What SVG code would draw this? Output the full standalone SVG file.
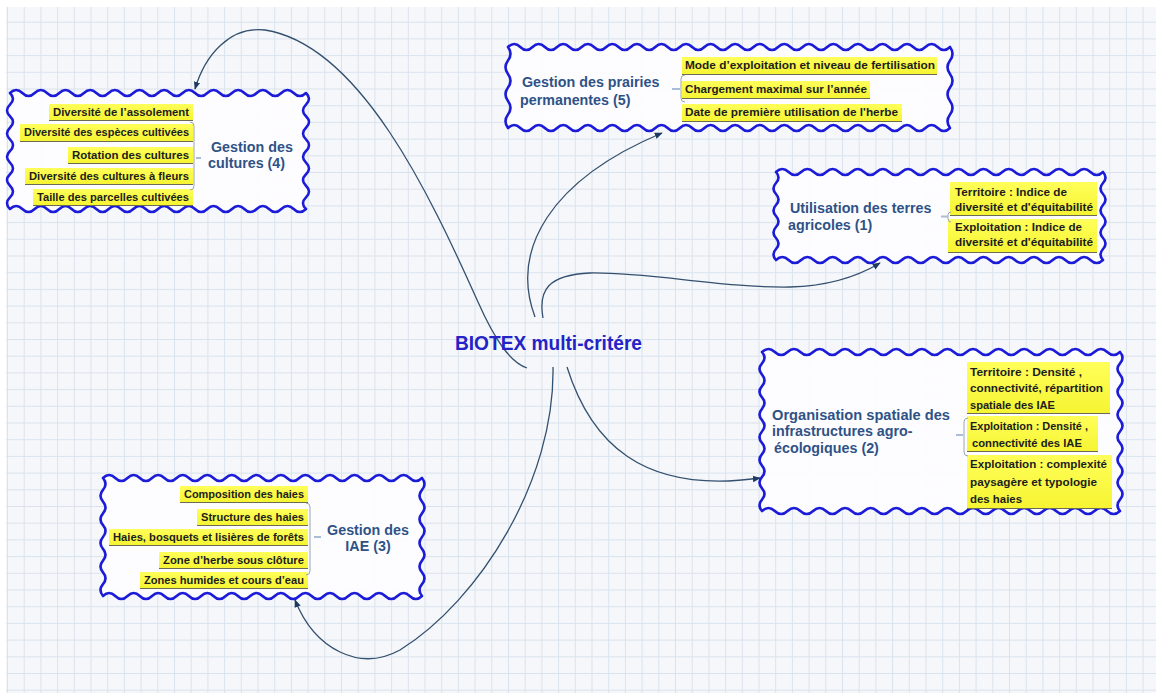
<svg xmlns="http://www.w3.org/2000/svg" width="1156" height="693" viewBox="0 0 1156 693">
  <defs>
    <pattern id="grid" width="16.7" height="16.7" patternUnits="userSpaceOnUse" x="7" y="5">
      <path d="M0,0.5 H16.7 M0.5,0 V16.7" stroke="#dae3ed" stroke-width="1" fill="none"/>
    </pattern>
    <linearGradient id="hl" x1="0" y1="0" x2="0" y2="1">
      <stop offset="0" stop-color="#ffff5a"/>
      <stop offset="1" stop-color="#f6f432"/>
    </linearGradient>
    <marker id="arr" viewBox="0 0 10 10" refX="9" refY="5" markerWidth="8" markerHeight="8" markerUnits="userSpaceOnUse" orient="auto">
      <path d="M0,1 L10,5 L0,9 z" fill="#1e3a60"/>
    </marker>
  </defs>
  <style>
    .frame { fill: #fdfdff; fill-opacity: 0.94; stroke: #1c1cd8; stroke-width: 2.6; stroke-linejoin: round; }
    .hl { fill: url(#hl); }
    .ul { stroke: #6b6b55; stroke-width: 1; }
    .item { font-family: "Liberation Sans", Arial, sans-serif; font-weight: bold; font-size: 11.5px; fill: #1d1d1d; }
    .title { font-family: "Liberation Sans", Arial, sans-serif; font-weight: bold; font-size: 14.3px; fill: #2f5286; }
    .brace { fill: none; stroke: #9aa6b4; stroke-width: 1; }
    .dash { stroke: #a9bdd6; stroke-width: 2; }
    .link { fill: none; stroke: #34506f; stroke-width: 1.3; marker-end: url(#arr); }
    .root { font-family: "Liberation Sans", Arial, sans-serif; font-weight: bold; font-size: 19.5px; fill: #2323c8; }
  </style>

  <!-- squared paper background -->
  <rect x="0" y="0" width="1156" height="693" fill="#ffffff"/>
  <rect x="6" y="7" width="1150" height="686" fill="#f5f7fa"/>
  <rect x="6" y="7" width="1150" height="686" fill="url(#grid)"/>

  <!-- connectors from the central topic -->
  <g id="connectors">
    <path class="link" d="M527,368 C510,362 495,340 478,302 C430,195 360,45 265,30 C230,26 205,55 195,89"/>
    <path class="link" d="M535,317 C510,250 550,180 662,133"/>
    <path class="link" d="M543,318 C538,290 548,275 590,273 C650,272 720,288 790,287 C830,286 860,275 880,263"/>
    <path class="link" d="M567,367 C590,440 640,495 760,478"/>
    <path class="link" d="M553,367 C555,480 480,600 400,650 C360,672 315,650 295,600"/>
  </g>

  <!-- central topic -->
  <g id="root">
    <text class="root" x="455" y="350" textLength="187" lengthAdjust="spacingAndGlyphs">BIOTEX multi-critére</text>
  </g>

  <!-- Gestion des cultures (4) -->
  <g id="node-cultures">
    <path class="frame" d="M10,93 q6.167,-6 12.333,0 t12.333,0 12.333,0 12.333,0 12.333,0 12.333,0 12.333,0 12.333,0 12.333,0 12.333,0 12.333,0 12.333,0 12.333,0 12.333,0 12.333,0 12.333,0 12.333,0 12.333,0 12.333,0 12.333,0 12.333,0 12.333,0 12.333,0 12.333,0
      q6,5.8 0,11.6 t0,11.6 0,11.6 0,11.6 0,11.6 0,11.6 0,11.6 0,11.6 0,11.6 0,11.6
      q-6.167,6 -12.333,0 t-12.333,0 -12.333,0 -12.333,0 -12.333,0 -12.333,0 -12.333,0 -12.333,0 -12.333,0 -12.333,0 -12.333,0 -12.333,0 -12.333,0 -12.333,0 -12.333,0 -12.333,0 -12.333,0 -12.333,0 -12.333,0 -12.333,0 -12.333,0 -12.333,0 -12.333,0 -12.333,0
      q-6,-5.8 0,-11.6 t0,-11.6 0,-11.6 0,-11.6 0,-11.6 0,-11.6 0,-11.6 0,-11.6 0,-11.6 0,-11.6 Z"/>
    <rect class="hl" x="49" y="104" width="144" height="16"/>
    <line class="ul" x1="49" y1="120.5" x2="193" y2="120.5"/>
    <text class="item" x="189" y="116" text-anchor="end" textLength="136" lengthAdjust="spacingAndGlyphs">Diversité de l’assolement</text>
    <rect class="hl" x="20" y="124" width="173" height="17"/>
    <line class="ul" x1="20" y1="141.5" x2="193" y2="141.5"/>
    <text class="item" x="189" y="136" text-anchor="end" textLength="165" lengthAdjust="spacingAndGlyphs">Diversité des espèces cultivées</text>
    <rect class="hl" x="68" y="147" width="125" height="16"/>
    <line class="ul" x1="68" y1="163.5" x2="193" y2="163.5"/>
    <text class="item" x="189" y="159" text-anchor="end" textLength="117" lengthAdjust="spacingAndGlyphs">Rotation des cultures</text>
    <rect class="hl" x="25" y="168" width="168" height="16"/>
    <line class="ul" x1="25" y1="184.5" x2="193" y2="184.5"/>
    <text class="item" x="189" y="180" text-anchor="end" textLength="160" lengthAdjust="spacingAndGlyphs">Diversité des cultures à fleurs</text>
    <rect class="hl" x="33" y="189" width="160" height="16"/>
    <line class="ul" x1="33" y1="205.5" x2="193" y2="205.5"/>
    <text class="item" x="189" y="201" text-anchor="end" textLength="152" lengthAdjust="spacingAndGlyphs">Taille des parcelles cultivées</text>
    <path class="brace" d="M190,122 q4,0 4,4 V186 q0,4 -4,4"/>
    <line class="dash" x1="196" y1="158" x2="201" y2="158"/>
    <text class="title" x="211" y="152">Gestion des</text>
    <text class="title" x="208" y="168">cultures (4)</text>
  </g>

  <!-- Gestion des prairies permanentes (5) -->
  <g id="node-prairies">
    <path class="frame" d="M508,47 q6.139,-6 12.278,0 t12.278,0 12.278,0 12.278,0 12.278,0 12.278,0 12.278,0 12.278,0 12.278,0 12.278,0 12.278,0 12.278,0 12.278,0 12.278,0 12.278,0 12.278,0 12.278,0 12.278,0 12.278,0 12.278,0 12.278,0 12.278,0 12.278,0 12.278,0 12.278,0 12.278,0 12.278,0 12.278,0 12.278,0 12.278,0 12.278,0 12.278,0 12.278,0 12.278,0 12.278,0 12.278,0
      q5,6.75 0,13.5 t0,13.5 0,13.5 0,13.5 0,13.5 0,13.5
      q-6.139,6 -12.278,0 t-12.278,0 -12.278,0 -12.278,0 -12.278,0 -12.278,0 -12.278,0 -12.278,0 -12.278,0 -12.278,0 -12.278,0 -12.278,0 -12.278,0 -12.278,0 -12.278,0 -12.278,0 -12.278,0 -12.278,0 -12.278,0 -12.278,0 -12.278,0 -12.278,0 -12.278,0 -12.278,0 -12.278,0 -12.278,0 -12.278,0 -12.278,0 -12.278,0 -12.278,0 -12.278,0 -12.278,0 -12.278,0 -12.278,0 -12.278,0 -12.278,0
      q-5,-6.75 0,-13.5 t0,-13.5 0,-13.5 0,-13.5 0,-13.5 0,-13.5 Z"/>
    <rect class="hl" x="682" y="57" width="255" height="17"/>
    <line class="ul" x1="682" y1="74.5" x2="937" y2="74.5"/>
    <text class="item" x="685" y="69" textLength="250" lengthAdjust="spacingAndGlyphs">Mode d’exploitation et niveau de fertilisation</text>
    <rect class="hl" x="682" y="81" width="188" height="17"/>
    <line class="ul" x1="682" y1="98.5" x2="870" y2="98.5"/>
    <text class="item" x="685" y="93" textLength="182" lengthAdjust="spacingAndGlyphs">Chargement maximal sur l’année</text>
    <rect class="hl" x="682" y="104" width="220" height="17"/>
    <line class="ul" x1="682" y1="121.5" x2="902" y2="121.5"/>
    <text class="item" x="685" y="116" textLength="213" lengthAdjust="spacingAndGlyphs">Date de première utilisation de l'herbe</text>
    <path class="brace" d="M685,75 q-4,0 -4,4 V98 q0,4 4,4"/>
    <line class="dash" x1="672" y1="89" x2="680" y2="89"/>
    <text class="title" x="522" y="87">Gestion des prairies</text>
    <text class="title" x="520" y="105">permanentes (5)</text>
  </g>

  <!-- Utilisation des terres agricoles (1) -->
  <g id="node-terres">
    <path class="frame" d="M776,172 q6.288,-6 12.577,0 t12.577,0 12.577,0 12.577,0 12.577,0 12.577,0 12.577,0 12.577,0 12.577,0 12.577,0 12.577,0 12.577,0 12.577,0 12.577,0 12.577,0 12.577,0 12.577,0 12.577,0 12.577,0 12.577,0 12.577,0 12.577,0 12.577,0 12.577,0 12.577,0 12.577,0
      q5,5.5 0,11 t0,11 0,11 0,11 0,11 0,11 0,11 0,11
      q-6.288,6 -12.577,0 t-12.577,0 -12.577,0 -12.577,0 -12.577,0 -12.577,0 -12.577,0 -12.577,0 -12.577,0 -12.577,0 -12.577,0 -12.577,0 -12.577,0 -12.577,0 -12.577,0 -12.577,0 -12.577,0 -12.577,0 -12.577,0 -12.577,0 -12.577,0 -12.577,0 -12.577,0 -12.577,0 -12.577,0 -12.577,0
      q-5,-5.5 0,-11 t0,-11 0,-11 0,-11 0,-11 0,-11 0,-11 0,-11 Z"/>
    <rect class="hl" x="950" y="182" width="147" height="33"/>
    <line class="ul" x1="950" y1="215.5" x2="1097" y2="215.5"/>
    <text class="item" x="955" y="196" textLength="112" lengthAdjust="spacingAndGlyphs">Territoire : Indice de</text>
    <text class="item" x="955" y="211" textLength="138" lengthAdjust="spacingAndGlyphs">diversité et d'équitabilité</text>
    <rect class="hl" x="948" y="219" width="149" height="33"/>
    <line class="ul" x1="948" y1="252.5" x2="1097" y2="252.5"/>
    <text class="item" x="955" y="231" textLength="127" lengthAdjust="spacingAndGlyphs">Exploitation : Indice de</text>
    <text class="item" x="955" y="246" textLength="138" lengthAdjust="spacingAndGlyphs">diversité et d'équitabilité</text>
    <path class="brace" d="M951,212 q-3,0 -3,3 V219 q0,3 3,3"/>
    <line class="dash" x1="941" y1="216.5" x2="948" y2="216.5"/>
    <text class="title" x="790" y="213">Utilisation des terres</text>
    <text class="title" x="788" y="230">agricoles (1)</text>
  </g>

  <!-- Organisation spatiale des infrastructures agro-écologiques (2) -->
  <g id="node-organisation">
    <path class="frame" d="M762,352 q6.393,-6 12.786,0 t12.786,0 12.786,0 12.786,0 12.786,0 12.786,0 12.786,0 12.786,0 12.786,0 12.786,0 12.786,0 12.786,0 12.786,0 12.786,0 12.786,0 12.786,0 12.786,0 12.786,0 12.786,0 12.786,0 12.786,0 12.786,0 12.786,0 12.786,0 12.786,0 12.786,0 12.786,0 12.786,0
      q5,5.679 0,11.357 t0,11.357 0,11.357 0,11.357 0,11.357 0,11.357 0,11.357 0,11.357 0,11.357 0,11.357 0,11.357 0,11.357 0,11.357 0,11.357
      q-6.393,6 -12.786,0 t-12.786,0 -12.786,0 -12.786,0 -12.786,0 -12.786,0 -12.786,0 -12.786,0 -12.786,0 -12.786,0 -12.786,0 -12.786,0 -12.786,0 -12.786,0 -12.786,0 -12.786,0 -12.786,0 -12.786,0 -12.786,0 -12.786,0 -12.786,0 -12.786,0 -12.786,0 -12.786,0 -12.786,0 -12.786,0 -12.786,0 -12.786,0
      q-5,-5.679 0,-11.357 t0,-11.357 0,-11.357 0,-11.357 0,-11.357 0,-11.357 0,-11.357 0,-11.357 0,-11.357 0,-11.357 0,-11.357 0,-11.357 0,-11.357 0,-11.357 Z"/>
    <rect class="hl" x="967" y="362" width="143" height="51"/>
    <line class="ul" x1="967" y1="413.5" x2="1110" y2="413.5"/>
    <text class="item" x="970" y="376" textLength="112" lengthAdjust="spacingAndGlyphs">Territoire : Densité ,</text>
    <text class="item" x="970" y="392" textLength="133" lengthAdjust="spacingAndGlyphs">connectivité, répartition</text>
    <text class="item" x="970" y="409" textLength="85" lengthAdjust="spacingAndGlyphs">spatiale des IAE</text>
    <rect class="hl" x="967" y="416" width="131" height="35"/>
    <line class="ul" x1="967" y1="451.5" x2="1098" y2="451.5"/>
    <text class="item" x="970" y="430" textLength="118" lengthAdjust="spacingAndGlyphs">Exploitation : Densité ,</text>
    <text class="item" x="972" y="447" textLength="110" lengthAdjust="spacingAndGlyphs">connectivité des IAE</text>
    <rect class="hl" x="967" y="455" width="145" height="53"/>
    <line class="ul" x1="967" y1="508.5" x2="1112" y2="508.5"/>
    <text class="item" x="970" y="468" textLength="137" lengthAdjust="spacingAndGlyphs">Exploitation : complexité</text>
    <text class="item" x="970" y="486" textLength="127" lengthAdjust="spacingAndGlyphs">paysagère et typologie</text>
    <text class="item" x="970" y="503" textLength="52" lengthAdjust="spacingAndGlyphs">des haies</text>
    <path class="brace" d="M968,418 q-4,0 -4,4 V452 q0,4 4,4"/>
    <line class="dash" x1="956" y1="435" x2="963" y2="435"/>
    <text class="title" x="772" y="420" textLength="178" lengthAdjust="spacingAndGlyphs">Organisation spatiale des</text>
    <text class="title" x="772" y="436">infrastructures agro-</text>
    <text class="title" x="774" y="453">écologiques (2)</text>
  </g>

  <!-- Gestion des IAE (3) -->
  <g id="node-iae">
    <path class="frame" d="M103,478 q6.135,-6 12.269,0 t12.269,0 12.269,0 12.269,0 12.269,0 12.269,0 12.269,0 12.269,0 12.269,0 12.269,0 12.269,0 12.269,0 12.269,0 12.269,0 12.269,0 12.269,0 12.269,0 12.269,0 12.269,0 12.269,0 12.269,0 12.269,0 12.269,0 12.269,0 12.269,0 12.269,0
      q5,5.9 0,11.8 t0,11.8 0,11.8 0,11.8 0,11.8 0,11.8 0,11.8 0,11.8 0,11.8 0,11.8
      q-6.135,6 -12.269,0 t-12.269,0 -12.269,0 -12.269,0 -12.269,0 -12.269,0 -12.269,0 -12.269,0 -12.269,0 -12.269,0 -12.269,0 -12.269,0 -12.269,0 -12.269,0 -12.269,0 -12.269,0 -12.269,0 -12.269,0 -12.269,0 -12.269,0 -12.269,0 -12.269,0 -12.269,0 -12.269,0 -12.269,0 -12.269,0
      q-5,-5.9 0,-11.8 t0,-11.8 0,-11.8 0,-11.8 0,-11.8 0,-11.8 0,-11.8 0,-11.8 0,-11.8 0,-11.8 Z"/>
    <rect class="hl" x="180" y="486" width="128" height="16"/>
    <line class="ul" x1="180" y1="502.5" x2="308" y2="502.5"/>
    <text class="item" x="304" y="498" text-anchor="end" textLength="120" lengthAdjust="spacingAndGlyphs">Composition des haies</text>
    <rect class="hl" x="197" y="509" width="111" height="16"/>
    <line class="ul" x1="197" y1="525.5" x2="308" y2="525.5"/>
    <text class="item" x="304" y="521" text-anchor="end" textLength="103" lengthAdjust="spacingAndGlyphs">Structure des haies</text>
    <rect class="hl" x="109" y="529" width="199" height="16"/>
    <line class="ul" x1="109" y1="545.5" x2="308" y2="545.5"/>
    <text class="item" x="304" y="541" text-anchor="end" textLength="191" lengthAdjust="spacingAndGlyphs">Haies, bosquets et lisières de forêts</text>
    <rect class="hl" x="159" y="552" width="149" height="16"/>
    <line class="ul" x1="159" y1="568.5" x2="308" y2="568.5"/>
    <text class="item" x="304" y="564" text-anchor="end" textLength="141" lengthAdjust="spacingAndGlyphs">Zone d’herbe sous clôture</text>
    <rect class="hl" x="140" y="572" width="168" height="16"/>
    <line class="ul" x1="140" y1="588.5" x2="308" y2="588.5"/>
    <text class="item" x="304" y="584" text-anchor="end" textLength="160" lengthAdjust="spacingAndGlyphs">Zones humides et cours d’eau</text>
    <path class="brace" d="M306,503 q4,0 4,4 V571 q0,4 -4,4"/>
    <line class="dash" x1="314" y1="537" x2="321" y2="537"/>
    <text class="title" x="368" y="535" text-anchor="middle">Gestion des</text>
    <text class="title" x="368" y="551" text-anchor="middle">IAE (3)</text>
  </g>
</svg>
